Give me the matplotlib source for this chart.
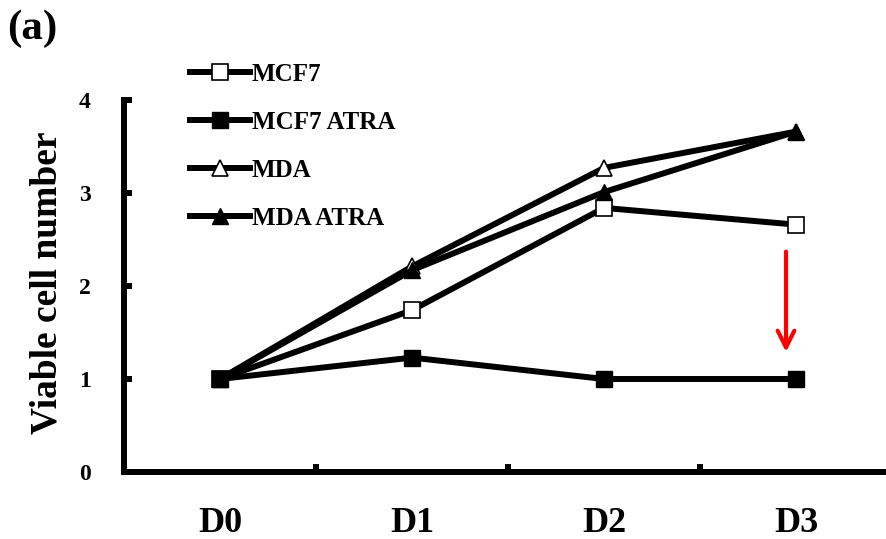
import matplotlib
matplotlib.use("Agg")
import matplotlib.pyplot as plt

days = ["D0", "D1", "D2", "D3"]
mcf7 = [1.0, 1.74, 2.84, 2.66]
mcf7_atra = [1.0, 1.23, 1.0, 1.0]
mda = [1.0, 2.21, 3.27, 3.66]
mda_atra = [1.0, 2.17, 3.01, 3.66]
y_ticks = [0, 1, 2, 3, 4]

plt.rcParams['font.family'] = ['Liberation Serif', 'DejaVu Serif']
plt.rcParams['font.weight'] = 'bold'

W, H = 887, 539
fig = plt.figure(figsize=(W / 100, H / 100), dpi=100)
# axes box: x from 124 to 892 px, y from 100 (value 4) to 472 (value 0)
ax = fig.add_axes([124 / W, 1 - 472 / H, 768 / W, 372 / H])

x = range(len(days))
lw = 4.3
ms = 11.5
ax.plot(x, mcf7, color='black', lw=lw, marker='s', ms=ms, mfc='white', mec='black', mew=1.2, label='MCF7')
ax.plot(x, mcf7_atra, color='black', lw=lw, marker='s', ms=ms, mfc='black', mec='black', label='MCF7 ATRA', zorder=4)
ax.plot(x, mda, color='black', lw=lw, marker='^', ms=ms, mfc='white', mec='black', mew=1.2, label='MDA')
ax.plot(x, mda_atra, color='black', lw=lw, marker='^', ms=ms, mfc='black', mec='black', label='MDA ATRA')

# red arrow pointing at the ATRA drop
ax.annotate('', xy=(2.948, 1.26), xytext=(2.948, 2.40),
            arrowprops=dict(arrowstyle='->', color='red', lw=3, mutation_scale=30))

ax.set_xlim(-0.5, 3.5)
ax.set_ylim(0, 4)
ax.set_yticks(y_ticks)
ax.set_yticklabels([str(t) for t in y_ticks], fontsize=17, fontweight='bold')
ax.set_xticks([0.5, 1.5, 2.5])
ax.set_xticklabels([])
ax.tick_params(axis='both', direction='in', length=6, width=4.3, color='black')
ax.tick_params(axis='y', pad=24)
for i, d in enumerate(days):
    ax.text(i, -60 / 372, d, ha='center', va='baseline', fontsize=26, fontweight='bold',
            transform=ax.get_xaxis_transform(), clip_on=False)

for s in ['top', 'right']:
    ax.spines[s].set_visible(False)
for s in ['left', 'bottom']:
    ax.spines[s].set_linewidth(4.3)

fig.text(47 / W, 1 - 283 / H, 'Viable cell number', rotation=90, ha='center', va='center',
         fontsize=27, fontweight='bold')

leg = ax.legend(loc='upper left', bbox_to_anchor=(190 / W, 1 - 63 / H),
                bbox_transform=fig.transFigure, frameon=False, fontsize=18,
                handlelength=2.4, handletextpad=0.08, labelspacing=1.0,
                borderpad=0, borderaxespad=0)
for t in leg.get_texts():
    t.set_fontweight('bold')

fig.text(7 / W, 1 - 10 / H, '(a)', fontsize=31, fontweight='bold', ha='left', va='top')

fig.savefig('out.png', dpi=100)
